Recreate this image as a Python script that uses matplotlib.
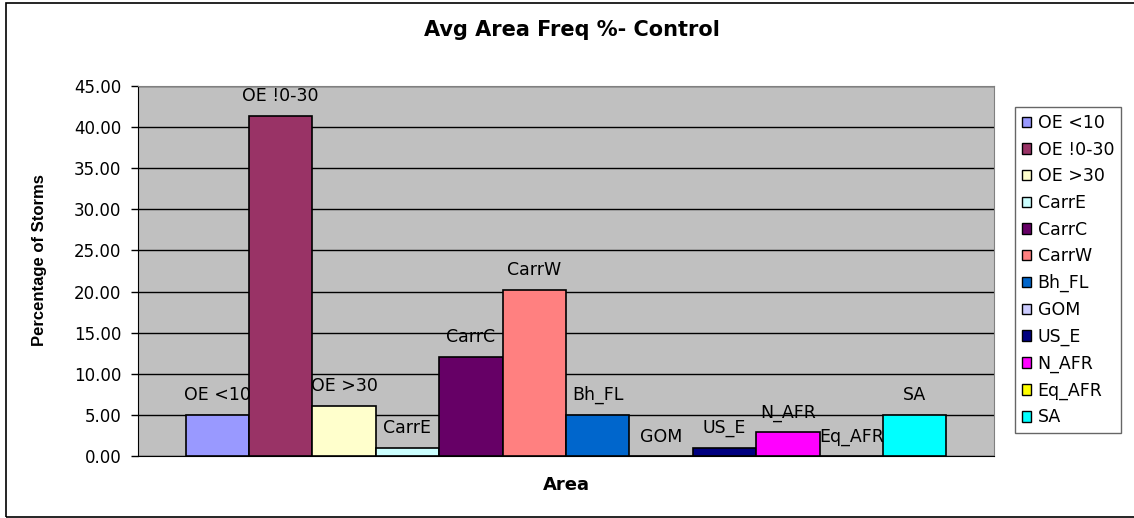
import matplotlib
matplotlib.use("Agg")
import matplotlib.pyplot as plt
from matplotlib.patches import Rectangle, Patch
import numpy as np

plt.rcParams['font.family'] = ['DejaVu Sans']

# Series (one bar each) and their average area frequency
areas = ["OE <10", "OE !0-30", "OE >30", "CarrE", "CarrC", "CarrW",
         "Bh_FL", "GOM", "US_E", "N_AFR", "Eq_AFR", "SA"]
freq_pct = [5.0, 41.4, 6.1, 1.0, 12.1, 20.2, 5.0, 0.0, 1.0, 2.9, 0.0, 5.0]
colors = ["#9999FF", "#993366", "#FFFFCC", "#CCFFFF", "#660066", "#FF8080",
          "#0066CC", "#CCCCFF", "#000080", "#FF00FF", "#FFFF00", "#00FFFF"]
yticks = np.arange(0, 46, 5)

W, H = 1134, 518
fig = plt.figure(figsize=(W / 100, H / 100), dpi=100)

# outer chart frame
fig.patches.append(Rectangle((6 / W, 1 / H), 1.2, 1 - 4 / H,
                             transform=fig.transFigure, fill=False,
                             edgecolor="black", lw=1.2))

ax = fig.add_axes([138 / W, 62 / H, 856 / W, 370 / H])
ax.set_facecolor("#C0C0C0")

group_w = 0.889
bw = group_w / len(areas)
xs = -group_w / 2 + bw * (np.arange(len(areas)) + 0.5)
for x, v, c, name in zip(xs, freq_pct, colors, areas):
    ax.bar(x, v, width=bw, color=c, edgecolor="black", linewidth=1.2, zorder=3)
    ax.annotate(name, (x, v), xytext=(0, 7.5), textcoords="offset points",
                ha="center", va="bottom", fontsize=12.5, zorder=4)

ax.set_xlim(-0.5, 0.5)
ax.set_ylim(0, 45)
ax.set_yticks(yticks)
ax.set_yticklabels([f"{t:.2f}" for t in yticks], fontsize=12)
ax.set_xticks([])
ax.grid(axis="y", color="black", lw=1, zorder=1)
ax.tick_params(axis="y", direction="out", length=5, width=1, pad=7)
for side in ("top", "right"):
    ax.spines[side].set_color("#808080")
ax.spines["left"].set_color("black")
ax.spines["bottom"].set_color("black")

fig.text(572 / W, 1 - 30 / H, "Avg Area Freq %- Control", ha="center",
         va="center", fontsize=15, fontweight="bold")
fig.text(566 / W, 1 - 485 / H, "Area", ha="center", va="center",
         fontsize=13, fontweight="bold")
fig.text(40 / W, 1 - 260 / H, "Percentage of Storms", rotation=90,
         ha="center", va="center", fontsize=12, fontweight="bold",
         family=["Liberation Sans Narrow", "Liberation Sans"])

handles = [Patch(facecolor=c, edgecolor="black", lw=1) for c in colors]
leg = fig.legend(handles, areas, loc="upper left",
                 bbox_to_anchor=(1015 / W, 1 - 107 / H),
                 bbox_transform=fig.transFigure, fontsize=12.5,
                 frameon=True, fancybox=False, edgecolor="#404040",
                 handlelength=0.55, handleheight=0.55, handletextpad=0.35,
                 labelspacing=0.5, borderpad=0.4, borderaxespad=0)
leg.get_frame().set_linewidth(1)

fig.savefig("out.png", dpi=100)
